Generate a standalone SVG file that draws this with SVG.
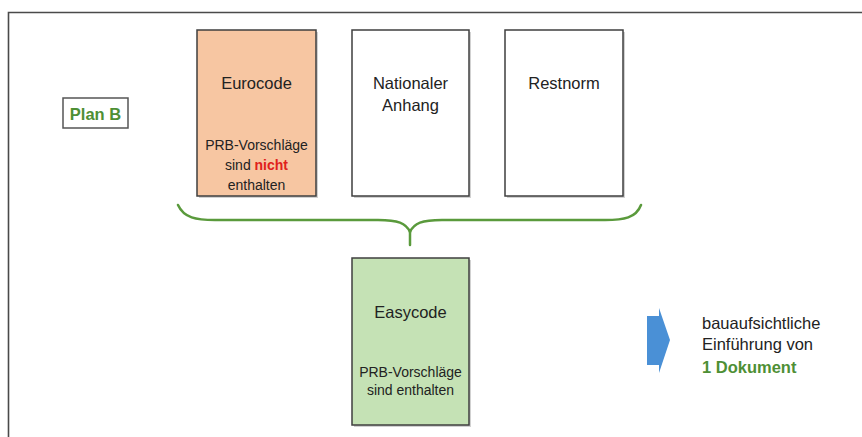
<svg xmlns="http://www.w3.org/2000/svg" width="862" height="437" viewBox="0 0 862 437">
  <style>
    .frame { fill: none; stroke: #4a4a4a; stroke-width: 1.6; }
    .doc { stroke: #3f3f3f; stroke-width: 1.5; }
    .shadow { fill: #000; opacity: 0.18; }
    .title { font-family: "Liberation Sans", Arial, sans-serif; font-size: 16.5px; fill: #222; text-anchor: middle; }
    .note { font-family: "Liberation Sans", Arial, sans-serif; font-size: 14px; fill: #222; text-anchor: middle; }
    .side { font-family: "Liberation Sans", Arial, sans-serif; font-size: 16.5px; fill: #222; }
    .green { fill: #4e8f35; font-weight: bold; }
    .red { fill: #e0201b; font-weight: bold; }
    .brace { fill: none; stroke: #5a9a3c; stroke-width: 2.5; stroke-linecap: round; }
  </style>

  <rect width="862" height="437" fill="#ffffff"/>
  <!-- page frame -->
  <path class="frame" d="M8.5,437 V12.5 H862"/>

  <g id="plan-b">
    <rect x="63" y="98" width="65" height="30" fill="#fff" stroke="#555" stroke-width="1.5"/>
    <text class="side green" x="95.5" y="119.5" text-anchor="middle" font-size="15">Plan B</text>
  </g>

  <g id="eurocode">
    <rect class="shadow" x="199" y="32" width="119" height="166"/>
    <rect class="doc" x="197" y="30" width="119" height="166" fill="#f7c6a2"/>
    <text class="title" x="256.5" y="89">Eurocode</text>
    <text class="note" x="256.5" y="150">PRB-Vorschläge</text>
    <text class="note" x="256.5" y="170">sind <tspan class="red">nicht</tspan></text>
    <text class="note" x="256.5" y="190">enthalten</text>
  </g>

  <g id="nationaler-anhang">
    <rect class="shadow" x="354" y="32" width="117" height="166"/>
    <rect class="doc" x="352" y="30" width="117" height="166" fill="#ffffff"/>
    <text class="title" x="410.5" y="89">Nationaler</text>
    <text class="title" x="410.5" y="111">Anhang</text>
  </g>

  <g id="restnorm">
    <rect class="shadow" x="507" y="32" width="118" height="166"/>
    <rect class="doc" x="505" y="30" width="118" height="166" fill="#ffffff"/>
    <text class="title" x="564" y="89">Restnorm</text>
  </g>

  <g id="connectors">
    <path class="brace" d="M178,205 C184,218 196,220 215,220 L378,220 C398,220 406,223 410,232 C414,223 422,220 442,220 L605,220 C624,220 636,218 641,205"/>
    <path class="brace" d="M410,230 V245"/>
  </g>

  <g id="easycode">
    <rect class="shadow" x="354" y="260" width="117" height="167"/>
    <rect class="doc" x="352" y="258" width="117" height="167" fill="#c5e2b5"/>
    <text class="title" x="410.5" y="318">Easycode</text>
    <text class="note" x="410.5" y="377">PRB-Vorschläge</text>
    <text class="note" x="410.5" y="395">sind enthalten</text>
  </g>

  <g id="einfuehrung">
    <polygon points="647,316 659,316 659,308 670,340 659,373 659,365 647,365" fill="#4a90d6"/>
    <text class="side" x="702" y="329">bauaufsichtliche</text>
    <text class="side" x="702" y="350">Einführung von</text>
    <text class="side green" x="702" y="373">1 Dokument</text>
  </g>
</svg>
